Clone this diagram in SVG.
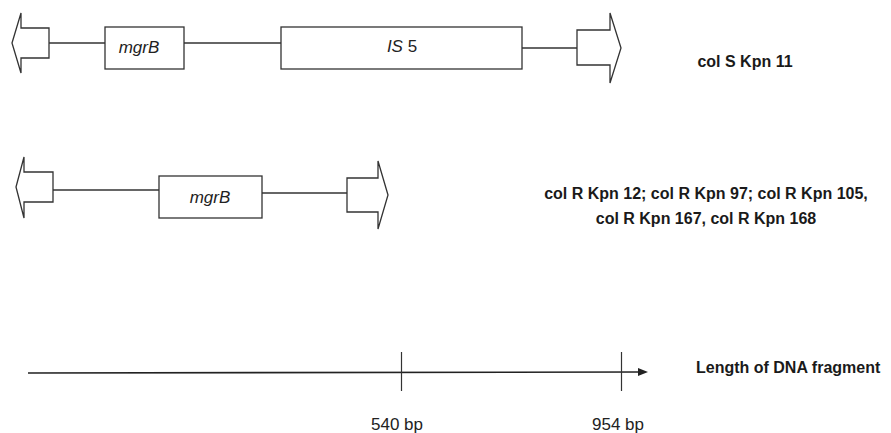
<svg xmlns="http://www.w3.org/2000/svg" width="891" height="433" viewBox="0 0 891 433">
<style>
.shape{fill:#fff;stroke:#333;stroke-width:1.3}
.ln{stroke:#333;stroke-width:1.3;fill:none}
.gene{font-family:"Liberation Sans",Arial,sans-serif;font-style:italic;font-size:17px;fill:#222}
.lab{font-family:"Liberation Sans",Arial,sans-serif;font-weight:bold;font-size:16px;fill:#1a1a1a}
.bp{font-family:"Liberation Sans",Arial,sans-serif;font-size:17px;fill:#222}
</style>
<rect width="891" height="433" fill="#fff"/>
<g id="connectors">
<line class="ln" x1="49" y1="43" x2="105" y2="43"/>
<line class="ln" x1="184" y1="43" x2="281" y2="43"/>
<line class="ln" x1="522" y1="48" x2="577" y2="48"/>
<line class="ln" x1="53" y1="190" x2="159" y2="190"/>
<line class="ln" x1="262" y1="193" x2="347" y2="193"/>
</g>
<g id="row1-left-arrow"><polygon class="shape" points="12,43 21,13 21,28 49,28 49,58 21,58 21,73"/></g>
<g id="row1-mgrB"><rect class="shape" x="105" y="27" width="79" height="42"/><text class="gene" x="139" y="53" text-anchor="middle">mgrB</text></g>
<g id="row1-IS5"><rect class="shape" x="281" y="27" width="241" height="42"/><text class="gene" x="402" y="52" text-anchor="middle" font-size="16">IS<tspan font-style="normal"> 5</tspan></text></g>
<g id="row1-right-arrow"><polygon class="shape" points="621,48 610,13 610,30 577,30 577,65 610,65 610,83"/></g>
<g id="row1-label"><text class="lab" x="745" y="67" text-anchor="middle">col S Kpn 11</text></g>
<g id="row2-left-arrow"><polygon class="shape" points="16,187 24,157 24,172 53,172 53,202 24,202 24,218"/></g>
<g id="row2-mgrB"><rect class="shape" x="159" y="176" width="103" height="42"/><text class="gene" x="210" y="203" text-anchor="middle">mgrB</text></g>
<g id="row2-right-arrow"><polygon class="shape" points="388,195 378,161 378,178 347,178 347,212 378,212 378,229"/></g>
<g id="row2-label"><text class="lab" x="706" y="199" text-anchor="middle">col R Kpn 12; col R Kpn 97; col R Kpn 105,</text><text class="lab" x="706" y="224" text-anchor="middle">col R Kpn 167, col R Kpn 168</text></g>
<g id="axis">
<line x1="28" y1="373" x2="640" y2="372" stroke="#222" stroke-width="1.6"/>
<polygon points="638,368 648,372 638,376" fill="#222"/>
<line x1="401.5" y1="352" x2="401.5" y2="391" stroke="#333" stroke-width="1.2"/>
<line x1="621.5" y1="352" x2="621.5" y2="391" stroke="#333" stroke-width="1.2"/>
<text class="bp" x="397" y="430" text-anchor="middle">540 bp</text>
<text class="bp" x="618" y="430" text-anchor="middle">954 bp</text>
<text class="lab" x="696" y="373" font-size="17.2">Length of DNA fragment</text>
</g>
</svg>
